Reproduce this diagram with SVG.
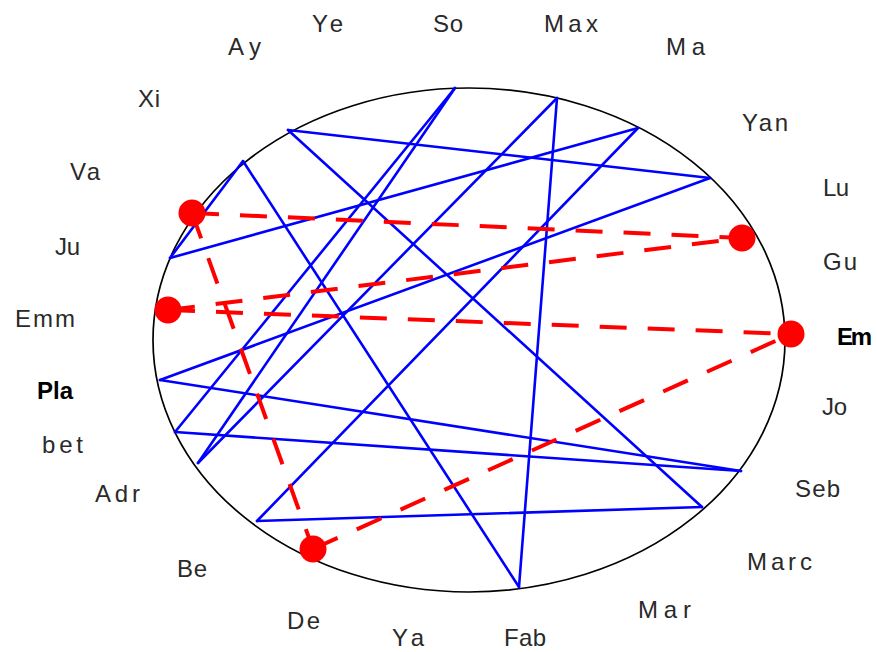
<svg xmlns="http://www.w3.org/2000/svg" width="877" height="652" viewBox="0 0 877 652">
<style>
.lbl{font-family:"Liberation Sans","DejaVu Sans",sans-serif;font-size:24px;fill:#2a2a2a}
.bold{font-weight:bold;fill:#000}
.edge{stroke:#0000ff;stroke-width:2.6;fill:none;stroke-linecap:round}
.dash{stroke:#ff0000;stroke-width:4;fill:none;stroke-dasharray:27 21}
.dot{fill:#ff0000}
</style>
<rect width="877" height="652" fill="#ffffff"/>
<g id="ring"><ellipse cx="469" cy="340" rx="316" ry="252" fill="none" stroke="#000" stroke-width="1.7"/></g>
<g id="connectors">
<line class="edge" x1="288" y1="130" x2="710" y2="178"/>
<line class="edge" x1="288" y1="130" x2="702" y2="507"/>
<line class="edge" x1="243" y1="161" x2="170" y2="258"/>
<line class="edge" x1="243" y1="161" x2="519" y2="587"/>
<line class="edge" x1="170" y1="258" x2="638" y2="128"/>
<line class="edge" x1="455" y1="88" x2="175" y2="432"/>
<line class="edge" x1="455" y1="88" x2="198" y2="463"/>
<line class="edge" x1="557" y1="98" x2="198" y2="463"/>
<line class="edge" x1="557" y1="98" x2="519" y2="587"/>
<line class="edge" x1="638" y1="128" x2="257" y2="521"/>
<line class="edge" x1="160" y1="380" x2="710" y2="178"/>
<line class="edge" x1="160" y1="380" x2="741" y2="471"/>
<line class="edge" x1="175" y1="432" x2="741" y2="471"/>
<line class="edge" x1="257" y1="521" x2="702" y2="507"/>
<line class="dash" x1="192" y1="213" x2="742" y2="238"/>
<line class="dash" x1="168" y1="310" x2="742" y2="238"/>
<line class="dash" x1="168" y1="310" x2="791" y2="334"/>
<line class="dash" x1="192" y1="213" x2="313" y2="549"/>
<line class="dash" x1="313" y1="549" x2="791" y2="334"/>
</g>
<g id="p1"><circle class="dot" cx="192" cy="213" r="13.5"/></g>
<g id="p2"><circle class="dot" cx="742" cy="238" r="13.5"/></g>
<g id="p3"><circle class="dot" cx="168" cy="310" r="13.5"/></g>
<g id="p4"><circle class="dot" cx="791" cy="334" r="13.5"/></g>
<g id="p5"><circle class="dot" cx="313" cy="549" r="13.5"/></g>
<g id="n-Ye"><text class="lbl" x="312" y="32" textLength="31">Ye</text></g>
<g id="n-So"><text class="lbl" x="433" y="32" textLength="30">So</text></g>
<g id="n-Max"><text class="lbl" x="544" y="32" textLength="54">Max</text></g>
<g id="n-Ay"><text class="lbl" x="228" y="55" textLength="33">Ay</text></g>
<g id="n-Ma"><text class="lbl" x="666" y="55" textLength="39">Ma</text></g>
<g id="n-Xi"><text class="lbl" x="138" y="107" textLength="22">Xi</text></g>
<g id="n-Yan"><text class="lbl" x="742" y="131" textLength="46">Yan</text></g>
<g id="n-Va"><text class="lbl" x="70" y="180" textLength="30">Va</text></g>
<g id="n-Lu"><text class="lbl" x="823" y="196" textLength="26">Lu</text></g>
<g id="n-Ju"><text class="lbl" x="55" y="255" textLength="25">Ju</text></g>
<g id="n-Gu"><text class="lbl" x="823" y="270" textLength="34">Gu</text></g>
<g id="n-Emm"><text class="lbl" x="15" y="327" textLength="60">Emm</text></g>
<g id="n-Em"><text class="lbl bold" x="837" y="345" textLength="35">Em</text></g>
<g id="n-Pla"><text class="lbl bold" x="37" y="399" textLength="36">Pla</text></g>
<g id="n-Jo"><text class="lbl" x="822" y="415" textLength="25">Jo</text></g>
<g id="n-bet"><text class="lbl" x="42" y="453" textLength="41">bet</text></g>
<g id="n-Adr"><text class="lbl" x="95" y="502" textLength="45">Adr</text></g>
<g id="n-Seb"><text class="lbl" x="795" y="497" textLength="45">Seb</text></g>
<g id="n-Be"><text class="lbl" x="177" y="577" textLength="30">Be</text></g>
<g id="n-Marc"><text class="lbl" x="747" y="570" textLength="65">Marc</text></g>
<g id="n-De"><text class="lbl" x="287" y="629" textLength="33">De</text></g>
<g id="n-Mar"><text class="lbl" x="638" y="618" textLength="53">Mar</text></g>
<g id="n-Ya"><text class="lbl" x="392" y="646" textLength="32">Ya</text></g>
<g id="n-Fab"><text class="lbl" x="504" y="646" textLength="42">Fab</text></g>
</svg>
